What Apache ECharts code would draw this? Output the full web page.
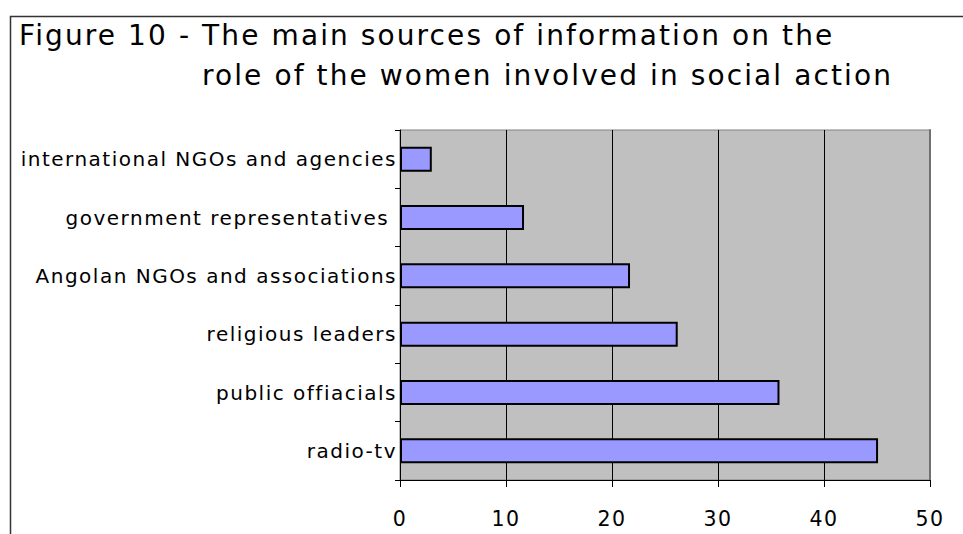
<!DOCTYPE html>
<html>
<head>
<meta charset="utf-8">
<script src="https://cdn.jsdelivr.net/npm/echarts@6/dist/echarts.min.js"></script>
<style>
  html, body { margin: 0; padding: 0; background: #fff; }
  #chart { width: 963px; height: 534px; }
  /* wide tracking for all chart text */
  #chart svg text { letter-spacing: 0.075em; }
</style>
</head>
<body>
<div id="chart"></div>
<script>
// Sources of information, listed top to bottom
const categories = [
  'international NGOs and agencies',
  'government representatives ',
  'Angolan NGOs and associations',
  'religious leaders',
  'public offiacials',
  'radio-tv'
];
const values = [3, 11.7, 21.7, 26.2, 35.8, 45.1];
const titleLines = [
  'Figure 10 - The main sources of information on the',
  'role of the women involved in social action'
];

const FONT = '"DejaVu Sans", Verdana, sans-serif';
const chart = echarts.init(document.getElementById('chart'), null, { renderer: 'svg' });

chart.setOption({
  animation: false,
  backgroundColor: '#ffffff',
  title: [
    { text: titleLines[0], left: 14, top: 16,
      textStyle: { fontFamily: FONT, fontSize: 28, fontWeight: 'normal', color: '#000' } },
    { text: titleLines[1], left: 197, top: 56,
      textStyle: { fontFamily: FONT, fontSize: 28, fontWeight: 'normal', color: '#000' } }
  ],
  graphic: [
    // outer frame around the figure
    { type: 'rect', left: 8, top: 14, shape: { width: 1000, height: 600 },
      style: { fill: null, stroke: '#333', lineWidth: 1.5 }, silent: true }
  ],
  grid: {
    left: 400, right: 33, top: 130, bottom: 54,
    show: true, backgroundColor: '#C0C0C0', borderColor: '#808080', borderWidth: 1
  },
  xAxis: {
    type: 'value', min: 0, max: 50, interval: 10,
    axisLine: { show: true, lineStyle: { color: '#000', width: 1 } },
    axisTick: { show: true, length: 7, lineStyle: { color: '#000' } },
    splitLine: { show: true, lineStyle: { color: '#000', width: 1 } },
    axisLabel: { fontFamily: FONT, fontSize: 20.5, color: '#000', margin: 28 }
  },
  yAxis: [{
    type: 'category', data: categories, inverse: true,
    axisLine: { show: true, lineStyle: { color: '#000', width: 1 } },
    axisTick: { show: true, length: 5, lineStyle: { color: '#000' } },
    splitLine: { show: false },
    axisLabel: { fontFamily: FONT, fontSize: 20, color: '#000', margin: 3 }
  }, {
    // darker right edge of the plot area
    type: 'category', data: categories, inverse: true, position: 'right',
    axisLine: { show: true, lineStyle: { color: '#707070', width: 2 } },
    axisTick: { show: false }, axisLabel: { show: false }, splitLine: { show: false }
  }],
  series: [{
    type: 'bar', data: values, barWidth: 25,
    itemStyle: { color: '#9999FF', borderColor: '#000', borderWidth: 2 }
  }]
});
</script>
</body>
</html>
